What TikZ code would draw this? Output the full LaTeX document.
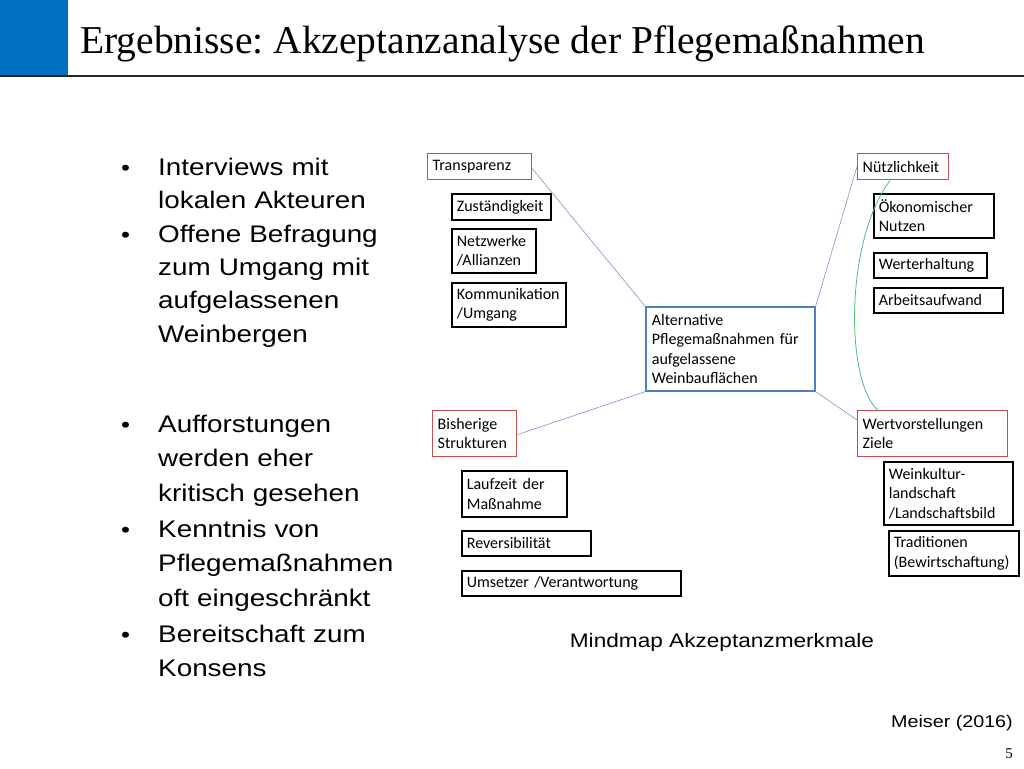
\documentclass[tikz,border=0pt]{standalone}
\usepackage{fontspec}
\setmainfont{Liberation Sans}[FakeStretch=1.16]
\newfontfamily\titlefont{Liberation Serif}
\newfontfamily\boxfont{Carlito}
\frenchspacing
\definecolor{slideblue}{RGB}{0,112,192}
\definecolor{mmred}{RGB}{192,80,77}
\definecolor{mmblue}{RGB}{79,129,189}
\definecolor{mmline}{RGB}{120,150,200}
\definecolor{mmgreen}{RGB}{80,190,120}
\begin{document}
\begin{tikzpicture}[x=1pt,y=-1pt,
  bul/.style={anchor=base west,inner sep=0pt,align=left,text width=260pt,font=\fontsize{24}{34.5}\selectfont},
  bultight/.style={bul,font=\fontsize{24}{33.4}\selectfont},
  dot/.style={anchor=base west,inner sep=0pt,font=\fontsize{22}{30}\selectfont},
  mm/.style={draw=black,line width=1.7pt,anchor=north west,inner sep=0pt,align=left,font=\boxfont\fontsize{16}{19.5}\selectfont},
  mmr/.style={mm,draw=mmred,line width=1.3pt},
  mmc/.style={mm,draw=mmblue,line width=1.7pt},
  conn/.style={draw=mmline,line width=0.6pt}]
\useasboundingbox (0,0) rectangle (1024,768);
\fill[slideblue] (0,0) rectangle (68,75);
\draw[line width=1.5pt,black!85] (0,76) -- (1024,76);
\node[anchor=base west,inner sep=0pt,font=\titlefont\fontsize{39.5}{44}\selectfont] (title) at (80,54) {Ergebnisse: Akzeptanzanalyse der Pflegemaßnahmen};

% bullets
\node[dot] (d1) at (121,175) {•};
\node[bultight] (b1) at (158,175) {Interviews mit\\lokalen Akteuren};
\node[dot] (d2) at (121,242) {•};
\node[bultight] (b2) at (158,242) {Offene Befragung\\zum Umgang mit\\aufgelassenen\\Weinbergen};
\node[dot] (d3) at (121,432) {•};
\node[bul] (b3) at (158,432) {Aufforstungen\\werden eher\\kritisch gesehen};
\node[dot] (d4) at (121,537) {•};
\node[bul] (b4) at (158,537) {Kenntnis von\\Pflegemaßnahmen\\oft eingeschränkt};
\node[dot] (d5) at (121,642) {•};
\node[bul] (b5) at (158,642) {Bereitschaft zum\\Konsens};

% mindmap
\node[mmc,minimum width=169pt,minimum height=84pt,text width=157pt,inner xsep=6pt] (c) at (645,306) {Alternative\\Pflegemaßnahmen für\\aufgelassene\\Weinbauflächen};

\node[mmr,minimum width=104pt,minimum height=26pt,text width=94pt,inner xsep=5pt] (t) at (427,153) {Transparenz};
\node[mm,minimum width=99pt,minimum height=26pt,text width=89pt,inner xsep=5pt] (t1) at (451,193) {Zuständigkeit};
\node[mm,minimum width=84pt,minimum height=44pt,text width=74pt,inner xsep=5pt] (t2) at (451,228) {Netzwerke\\/Allianzen};
\node[mm,minimum width=114pt,minimum height=44pt,text width=104pt,inner xsep=5pt] (t3) at (451,282) {Kommunikation\\/Umgang};

\node[mmr,minimum width=91pt,minimum height=26pt,text width=81pt,inner xsep=5pt] (n) at (857,153) {Nützlichkeit};
\node[mm,minimum width=120pt,minimum height=44pt,text width=110pt,inner xsep=5pt] (n1) at (873,193) {Ökonomischer\\Nutzen};
\node[mm,minimum width=113pt,minimum height=25pt,text width=103pt,inner xsep=5pt] (n2) at (873,252) {Werterhaltung};
\node[mm,minimum width=129pt,minimum height=25pt,text width=119pt,inner xsep=5pt] (n3) at (873,287) {Arbeitsaufwand};

\node[mmr,minimum width=84pt,minimum height=46pt,text width=74pt,inner xsep=5pt] (b) at (432,410) {Bisherige\\Strukturen};
\node[mm,minimum width=105pt,minimum height=46pt,text width=95pt,inner xsep=5pt] (b1m) at (461,470) {Laufzeit der\\Maßnahme};
\node[mm,minimum width=129pt,minimum height=25pt,text width=119pt,inner xsep=5pt] (b2m) at (461,530) {Reversibilität};
\node[mm,minimum width=219pt,minimum height=25pt,text width=209pt,inner xsep=5pt] (b3m) at (461,570) {Umsetzer /Verantwortung};

\node[mmr,minimum width=150pt,minimum height=46pt,text width=140pt,inner xsep=5pt] (w) at (857,410) {Wertvorstellungen\\Ziele};
\node[mm,minimum width=129pt,minimum height=63pt,text width=119pt,inner xsep=5pt] (w1) at (883,461) {Weinkultur-\\landschaft\\/Landschaftsbild};
\node[mm,minimum width=130pt,minimum height=45pt,text width=120pt,inner xsep=5pt] (w2) at (888,530) {Traditionen\\(Bewirtschaftung)};

% connectors
\draw[conn] ([yshift=-2pt]t.east) -- (c.north west);
\draw[conn] (n.west) -- (c.north east);
\draw[conn] ([yshift=-1pt]b.east) -- (c.south west);
\draw[conn] ([yshift=-10pt]w.north west) -- (c.south east);
\draw[draw=mmgreen,line width=0.8pt] ([xshift=-13pt]n.south) .. controls (845,240) and (845,380) .. ([xshift=-55pt]w.north);

\node[anchor=base,inner sep=0pt,font=\fontsize{19.5}{24}\selectfont] (cap) at (722,647) {Mindmap Akzeptanzmerkmale};
\node[anchor=base east,inner sep=0pt,font=\fontsize{17}{20}\selectfont] (src) at (1013,727) {Meiser (2016)};
\node[anchor=base east,inner sep=0pt,font=\titlefont\fontsize{15}{18}\selectfont] (pg) at (1013,758) {5};
\end{tikzpicture}
\end{document}
